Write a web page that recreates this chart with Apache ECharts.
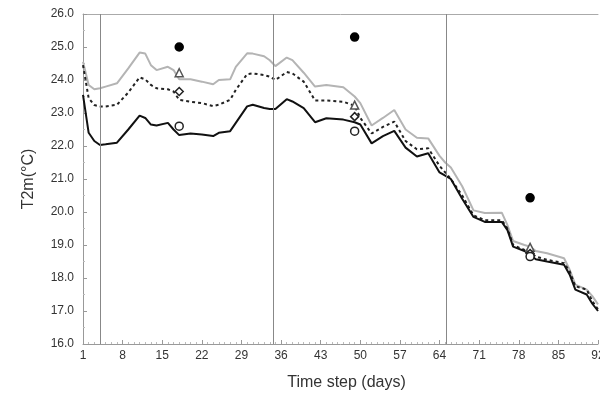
<!DOCTYPE html>
<html>
<head>
<meta charset="utf-8">
<script src="https://cdn.jsdelivr.net/npm/echarts@6/dist/echarts.min.js"></script>
<style>
  html, body { margin: 0; padding: 0; background: #fff; }
  #chart { width: 600px; height: 394px; }
</style>
</head>
<body>
<div id="chart"></div>
<script>
// days, shared by the three simulated lines
const days = [1, 2, 3, 4, 5, 7, 9, 11, 12, 13, 14, 16, 17, 18, 20, 22, 24, 25, 27, 28,
  30, 31, 33, 34, 35, 37, 38, 40, 42, 44, 47, 49, 50, 52, 54, 56, 58, 60, 62, 64,
  65, 66, 68, 70, 72, 75, 76, 77, 79, 80, 81, 83, 86, 87, 88, 90, 91, 92];

const blackLine = [23.55, 22.4, 22.15, 22.03, 22.05, 22.1, 22.5, 22.92, 22.85, 22.65, 22.62, 22.7, 22.5, 22.33, 22.38, 22.35, 22.3, 22.4, 22.45, 22.7,
  23.2, 23.25, 23.15, 23.12, 23.12, 23.42, 23.35, 23.15, 22.72, 22.84, 22.8, 22.72, 22.65, 22.08, 22.3, 22.46, 21.95, 21.68, 21.78, 21.2,
  21.1, 21.0, 20.4, 19.85, 19.7, 19.7, 19.45, 18.95, 18.82, 18.7, 18.57, 18.5, 18.4, 18.1, 17.65, 17.5, 17.22, 17.0];

const dashedLine = [24.45, 23.45, 23.24, 23.2, 23.2, 23.25, 23.62, 24.08, 24.02, 23.85, 23.75, 23.72, 23.65, 23.4, 23.34, 23.3, 23.21, 23.25, 23.4, 23.7,
  24.18, 24.2, 24.15, 24.1, 24.0, 24.24, 24.2, 23.95, 23.38, 23.38, 23.34, 23.22, 22.85, 22.38, 22.58, 22.74, 22.15, 21.9, 21.93, 21.4,
  21.2, 21.0, 20.5, 19.9, 19.75, 19.75, 19.5, 19.0, 18.85, 18.78, 18.65, 18.55, 18.45, 18.2, 17.75, 17.65, 17.3, 17.05];

const grayLine = [24.55, 23.85, 23.72, 23.75, 23.8, 23.9, 24.35, 24.83, 24.8, 24.45, 24.3, 24.4, 24.3, 24.02, 24.02, 23.95, 23.87, 24.0, 24.02, 24.4,
  24.81, 24.8, 24.72, 24.6, 24.42, 24.68, 24.6, 24.22, 23.8, 23.85, 23.78, 23.5, 23.3, 22.62, 22.85, 23.09, 22.5, 22.25, 22.23, 21.7,
  21.5, 21.35, 20.78, 20.05, 19.97, 19.98, 19.6, 19.12, 19.0, 18.95, 18.82, 18.75, 18.6, 18.25, 17.8, 17.65, 17.45, 17.2];

// observation markers
const obsDays = [18, 49, 80];
const obsFilled = [25.0, 25.3, 20.43];
const obsTriangle = [24.22, 23.24, 18.93];
const obsDiamond = [23.65, 22.89, 18.74];
const obsCircle = [22.6, 22.45, 18.65];

// vertical separators
const dividers = [4, 34.6, 65.2];

const pairs = (xs, ys) => xs.map((x, i) => [x, ys[i]]);

const chart = echarts.init(document.getElementById('chart'));

const markerSeries = (data, symbol, size, fill, stroke) => ({
  type: 'scatter',
  data: pairs(obsDays, data),
  symbol,
  symbolSize: size,
  itemStyle: { color: fill, borderColor: stroke, borderWidth: 1.5, opacity: 1 },
  z: 5,
});

chart.setOption({
  animation: false,
  textStyle: { fontFamily: 'Liberation Sans, Arial, sans-serif' },
  grid: { left: 83, right: 2, top: 14, bottom: 50, containLabel: false, outerBoundsMode: 'none' },
  xAxis: [{
    type: 'value',
    min: 1,
    max: 92,
    interval: 7,
    name: 'Time step (days)',
    nameLocation: 'middle',
    nameGap: 31,
    nameTextStyle: { fontSize: 16, color: '#333', padding: [0, 0, 0, 12] },
    axisLine: { lineStyle: { color: '#999' } },
    axisTick: { inside: true, length: 4, lineStyle: { color: '#999' } },
    minorTick: { show: true, splitNumber: 7, length: 2, lineStyle: { color: '#bbb' } },
    axisLabel: { fontSize: 12, color: '#333', margin: 6 },
    splitLine: { show: false },
  }, {
    type: 'value',
    position: 'top',
    min: 1,
    max: 92,
    axisLine: { show: true, lineStyle: { color: '#aaa' } },
    axisTick: { show: false },
    axisLabel: { show: false },
    splitLine: { show: false },
  }],
  yAxis: {
    type: 'value',
    min: 16,
    max: 26,
    interval: 1,
    name: 'T2m(°C)',
    nameLocation: 'middle',
    nameGap: 46,
    nameTextStyle: { fontSize: 16, color: '#333' },
    axisLine: { show: true, lineStyle: { color: '#999' } },
    axisTick: { show: true, inside: true, length: 4, lineStyle: { color: '#999' } },
    minorTick: { show: true, splitNumber: 2, length: 2, lineStyle: { color: '#bbb' } },
    axisLabel: { fontSize: 12, color: '#333', margin: 9, formatter: v => v.toFixed(1) },
    splitLine: { show: false },
  },
  series: [
    {
      type: 'line',
      data: pairs(days, grayLine),
      showSymbol: false,
      lineStyle: { color: '#b4b4b4', width: 2 },
      z: 2,
      markLine: {
        silent: true,
        symbol: 'none',
        label: { show: false },
        lineStyle: { color: '#888', width: 1, type: 'solid' },
        data: dividers.map(d => ({ xAxis: d })),
      },
    },
    {
      type: 'line',
      data: pairs(days, dashedLine),
      showSymbol: false,
      lineStyle: { color: '#222', width: 2, type: [3, 3] },
      z: 3,
    },
    {
      type: 'line',
      data: pairs(days, blackLine),
      showSymbol: false,
      lineStyle: { color: '#111', width: 2 },
      z: 4,
    },
    markerSeries(obsFilled, 'circle', 8, '#000', '#000'),
    markerSeries(obsTriangle, 'triangle', 8, '#fff', '#555'),
    markerSeries(obsDiamond, 'diamond', 8, '#fff', '#222'),
    markerSeries(obsCircle, 'circle', 8, '#fff', '#222'),
  ],
});
</script>
</body>
</html>
